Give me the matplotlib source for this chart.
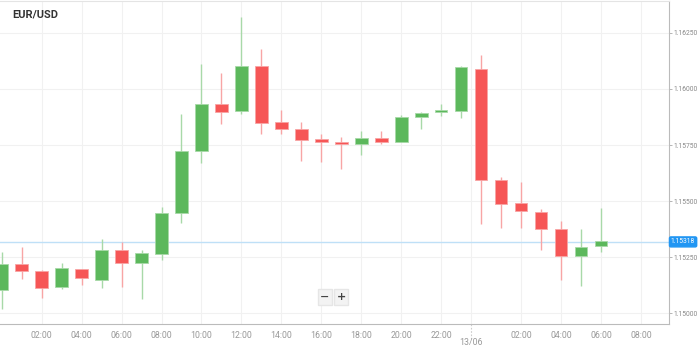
import numpy as np
import matplotlib.pyplot as plt

# hourly candles, hour 0 = 12/06 00:00
hours = list(range(31))
opens  = [1.15105, 1.15218, 1.15190, 1.15117, 1.15197, 1.15148, 1.15282, 1.15225,
          1.15265, 1.15445, 1.15724, 1.15933, 1.15900, 1.16102, 1.15854, 1.15823,
          1.15776, 1.15765, 1.15753, 1.15781, 1.15764, 1.15874, 1.15897, 1.15903,
          1.16090, 1.15593, 1.15490, 1.15452, 1.15375, 1.15254, 1.15301]
closes = [1.15218, 1.15188, 1.15114, 1.15200, 1.15156, 1.15282, 1.15224, 1.15270,
          1.15445, 1.15724, 1.15933, 1.15897, 1.16102, 1.15850, 1.15823, 1.15774,
          1.15765, 1.15753, 1.15781, 1.15765, 1.15874, 1.15894, 1.15905, 1.16096,
          1.15593, 1.15488, 1.15454, 1.15375, 1.15254, 1.15296, 1.15320]
highs  = [1.15271, 1.15294, 1.15192, 1.15225, 1.15199, 1.15329, 1.15317, 1.15283,
          1.15474, 1.15890, 1.16113, 1.16072, 1.16323, 1.16179, 1.15908, 1.15854,
          1.15801, 1.15786, 1.15811, 1.15813, 1.15882, 1.15896, 1.15931, 1.16102,
          1.16153, 1.15608, 1.15587, 1.15463, 1.15411, 1.15375, 1.15470]
lows   = [1.15018, 1.15151, 1.15069, 1.15107, 1.15125, 1.15111, 1.15117, 1.15062,
          1.15236, 1.15402, 1.15672, 1.15844, 1.15888, 1.15801, 1.15799, 1.15679,
          1.15675, 1.15641, 1.15704, 1.15753, 1.15764, 1.15820, 1.15878, 1.15872,
          1.15400, 1.15378, 1.15378, 1.15280, 1.15147, 1.15121, 1.15274]
last_price = 1.15318

xtick_pos = [2, 4, 6, 8, 10, 12, 14, 16, 18, 20, 22, 26, 28, 30, 32]
xtick_lbl = ["02:00", "04:00", "06:00", "08:00", "10:00", "12:00", "14:00", "16:00",
             "18:00", "20:00", "22:00", "02:00", "04:00", "06:00", "08:00"]
day_pos, day_lbl = 23.5, "13/06"
ytick_vals = [1.15000, 1.15250, 1.15500, 1.15750, 1.16000, 1.16250]

green, red = "#5cb85c", "#f65656"
green_w, red_w = "#a8d9a8", "#f8a5a5"

fig = plt.figure(figsize=(6.99, 3.48), dpi=100)
ax = fig.add_axes([0, 0.069, 0.957, 0.928])

opens = np.array(opens); closes = np.array(closes)
up = closes >= opens
cols = [green if u else red for u in up]
wcols = [green_w if u else red_w for u in up]
bottom = np.minimum(opens, closes)
height = np.maximum(np.abs(closes - opens), 0.00004)

ax.vlines(hours, lows, highs, colors=wcols, linewidth=1.0, zorder=2)
ax.bar(hours, height, bottom=bottom, width=0.63, color=cols,
       edgecolor=wcols, linewidth=0.6, zorder=3)

ax.axhline(last_price, color="#bfe0f7", linewidth=1.0, zorder=1)

ax.set_xlim(-0.085, 33.4)
ax.set_ylim(1.14952, 1.16392)

for x in xtick_pos + [day_pos]:
    ax.axvline(x, color="#f1f1f1", linewidth=0.8, zorder=0)
# dashed day separator tick below the axis
ax.plot([day_pos, day_pos], [0, -0.05], transform=ax.get_xaxis_transform(),
        color="#cccccc", linewidth=0.8, linestyle=(0, (1.5, 1.5)), clip_on=False)
for y in ytick_vals:
    ax.axhline(y, color="#f1f1f1", linewidth=0.8, zorder=0)

ax.set_xticks(xtick_pos)
ax.set_xticklabels(xtick_lbl, fontsize=6.3, color="#999999", family="Roboto")
ax.tick_params(axis="x", length=0, pad=5)
ax.text(day_pos, -0.056, day_lbl, transform=ax.get_xaxis_transform(),
        ha="center", va="center", fontsize=6.3, color="#999999", family="Roboto")

ax.yaxis.tick_right()
ax.set_yticks(ytick_vals)
ax.set_yticklabels(["%.5f" % v for v in ytick_vals], fontsize=4.9,
                   color="#888888", family="Roboto")
ax.tick_params(axis="y", length=2, width=0.6, color="#aaaaaa", pad=1.5)

ax.spines["left"].set_visible(False)
ax.spines["top"].set_color("#e4e4e4")
ax.spines["right"].set_color("#bbbbbb")
ax.spines["bottom"].set_color("#bbbbbb")

ax.text(1.003, last_price, "%.5f" % last_price, transform=ax.get_yaxis_transform(),
        ha="left", va="center", fontsize=4.9, color="white", family="Roboto",
        bbox=dict(boxstyle="round,pad=0.22", fc="#2196f3", ec="#2196f3"), clip_on=False)

fig.text(12 / 699, 1 - 15 / 348, "EUR/USD", fontsize=8, fontweight="bold",
         color="#333333", family="Roboto", va="center")

fig.text(325 / 699, 1 - 297 / 348, "\u2212", fontsize=8, fontweight="bold", color="#444444",
         ha="center", va="center", bbox=dict(boxstyle="square,pad=0.25", fc="#f3f3f3", ec="#e6e6e6"))
fig.text(341 / 699, 1 - 297 / 348, "+", fontsize=8, fontweight="bold", color="#444444",
         ha="center", va="center", bbox=dict(boxstyle="square,pad=0.25", fc="#f3f3f3", ec="#e6e6e6"))

fig.savefig("out.png", dpi=100)
